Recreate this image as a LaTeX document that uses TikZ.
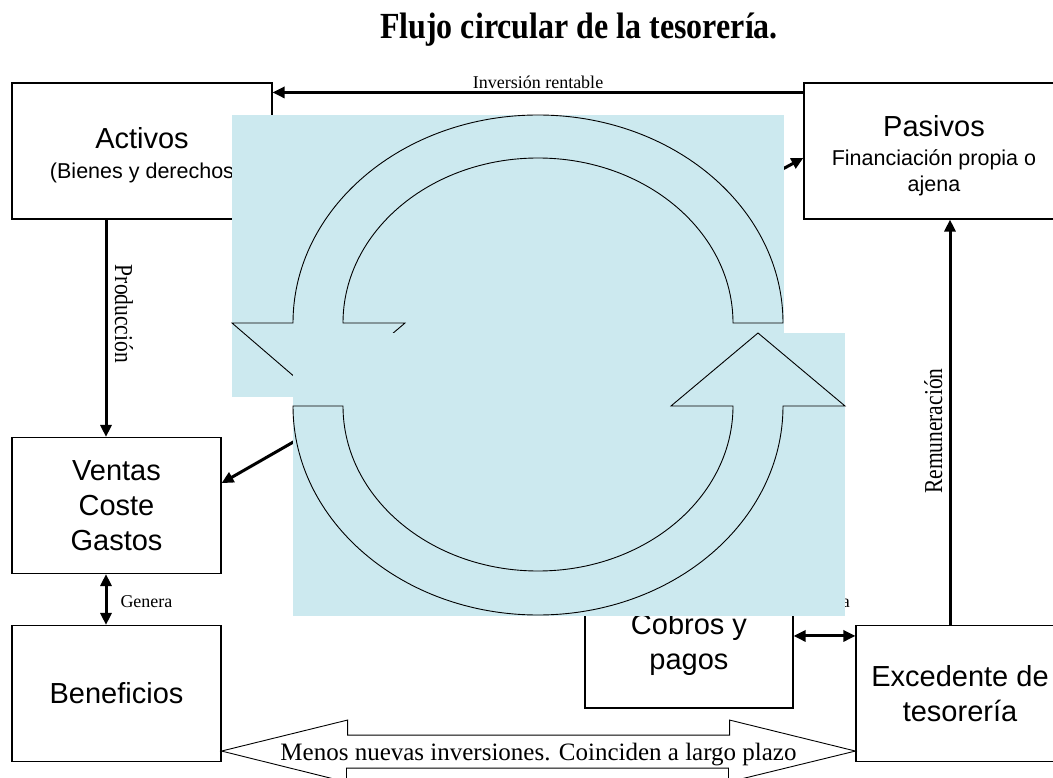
\documentclass[tikz,border=0pt]{standalone}
\usepackage{fontspec}
\setmainfont{Liberation Serif}
\newfontfamily\arial{Liberation Sans}
\usetikzlibrary{arrows.meta}
\definecolor{pale}{RGB}{204,233,239}

\def\topring{(293,323) arc[start angle=180, end angle=360, x radius=245, y radius=208] -- ++(-50,0) arc[start angle=360, end angle=180, x radius=195, y radius=165] -- ++(62,0) -- ++(-87,74) -- ++(-86,-74) -- cycle}
\def\lowring{(293,406) arc[start angle=180, end angle=0, x radius=245, y radius=209] -- ++(62,0) -- ++(-87,-73) -- ++(-87,73) -- ++(62,0) arc[start angle=0, end angle=180, x radius=195, y radius=165] -- cycle}

\begin{document}
\begin{tikzpicture}[x=1pt, y=-1pt,
    box/.style={draw, line width=1.1pt, minimum width=#1, minimum height=136pt, inner sep=0pt, align=center, font=\arial\fontsize{29}{35}\selectfont},
    tag/.style={font=\fontsize{18}{20}\selectfont, inner sep=0pt},
    vtag/.style={font=\fontsize{21.5}{24}\selectfont, inner sep=0pt},
    link/.style={line width=3pt, -{Triangle[length=12pt,width=11pt]}},
    both/.style={line width=3pt, {Triangle[length=12pt,width=11pt]}-{Triangle[length=12pt,width=11pt]}},
    ring/.style={fill=pale, draw, line width=0.9pt}]
\useasboundingbox (0,0) rectangle (1053,778);

\node (titulo) [anchor=base, font=\bfseries\fontsize{32}{40}\selectfont] at (579,39) {\scalebox{1}[1.15]{Flujo circular de la tesorería.}};

% cajas
\node (activos) [box=260pt] at (142,151) {\rule{0pt}{30pt}Activos\\[-5pt]{\fontsize{21.5}{26}\selectfont (Bienes y derechos}};
\node (pasivos) [box=260pt] at (934,151) {\rule{0pt}{30pt}Pasivos\\[-6pt]{\fontsize{21.5}{26}\selectfont Financiación propia o}\\[-9pt]{\fontsize{21.5}{26}\selectfont ajena}};
\node (ventas) [box=209pt] at (116.5,505.5) {Ventas\\Coste\\Gastos};
\node (beneficios) [box=209pt] at (116.5,693.5) {Beneficios};
\node (cobros) [box=208pt, minimum height=135pt] at (689,640.5) {\rule{0pt}{29pt}Cobros y\\pagos};
\node (excedente) [box=208pt] at (960,693.5) {Excedente de\\tesorería};

% flechas entre cajas
\draw[link] ([yshift=-10pt]pasivos.north west) -- ([yshift=-10pt]activos.north east)
    node (inv) [tag, midway, anchor=base, yshift=4pt] {Inversión rentable};
\draw[link] ([xshift=-36pt]activos.south) -- ([xshift=-10.5pt]ventas.north)
    node (prod) [vtag, pos=0.434, anchor=base, xshift=9pt, rotate=-90] {\scalebox{1}[1.2]{Producción}};
\draw[both] ([xshift=-10.5pt]ventas.south) -- ([xshift=-10.5pt]beneficios.north)
    node (gen) [tag, midway, anchor=base west, xshift=13pt, yshift=-8pt] {Genera};
\coordinate (cajae) at ([yshift=-11pt]excedente.north west);
\draw[both] (cobros.east |- cajae) -- (cajae);
\node (restoa) [tag, anchor=base east] at (850,607) {a};
\draw[link] ([xshift=-10pt]excedente.north) -- ([xshift=16pt]pasivos.south)
    node (rem) [vtag, pos=0.478, anchor=base, xshift=-8pt, rotate=90] {\scalebox{1}[1.2]{Remuneración}};

% salidas del ciclo
\coordinate (haciapas) at (740,192);
\draw[link] (haciapas) -- (pasivos.183);
\coordinate (haciaven) at (330,421);
\draw[link] (haciaven) -- (ventas.12);

% flecha doble de abajo
\coordinate (bizq) at ([yshift=11pt]beneficios.south east);
\coordinate (bder) at ([yshift=11pt]excedente.south west);
\draw[line width=0.9pt, fill=white] (bizq) -- ++(126,-31) -- ++(0,15) -- ++(382,0) -- ++(0,-15) -- (bder)
    -- ++(-127,31) -- ++(0,-14) -- ++(-382,0) -- ++(0,14) -- cycle;
\path (bizq) -- (bder) node (menos) [midway, anchor=base, yshift=-9pt, inner sep=0pt, font=\fontsize{25}{28}\selectfont] {Menos nuevas inversiones. Coinciden a largo plazo};

% ciclo
\begin{scope}
  \fill[pale] (232,115) rectangle (784,397);
  \draw[ring] \topring;
\end{scope}

\begin{scope}
  \fill[pale] (293,333) rectangle (845,616);
  \draw[ring] \lowring;
\end{scope}

\end{tikzpicture}
\end{document}
